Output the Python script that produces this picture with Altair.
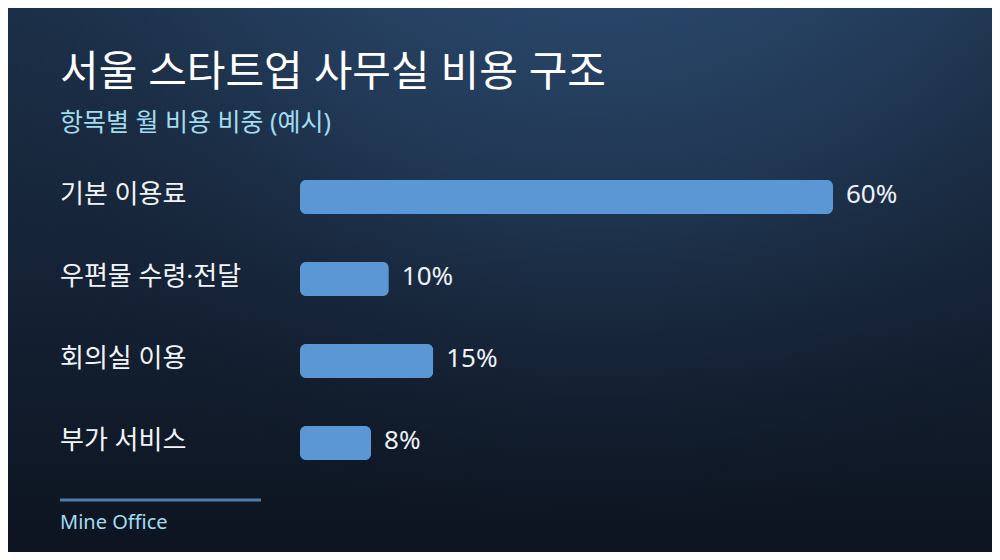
import altair as alt
import pandas as pd

# ---- data ----
categories = ["기본 이용료", "우편물 수령·전달", "회의실 이용", "부가 서비스"]
shares = [60, 10, 15, 8]
share_labels = ["60%", "10%", "15%", "8%"]
title_text = "서울 스타트업 사무실 비용 구조"
subtitle_text = "항목별 월 비용 비중 (예시)"
footer_text = "Mine Office"

W, H = 984, 544
OFF = 8  # page margin
FONT = "Noto Sans, Noto Sans CJK KR"

df = pd.DataFrame({"cat": categories, "value": shares, "label": share_labels})

xscale = alt.Scale(domain=[0, 60], range=[300 - OFF, 833 - OFF])
yscale = alt.Scale(type="point", domain=categories, range=[197 - OFF, 443 - OFF], padding=0)

one = pd.DataFrame({"a": [0]})

bg_linear = alt.Chart(one).mark_rect(
    fill={
        "gradient": "linear", "x1": 0, "y1": 0, "x2": 0, "y2": 1,
        "stops": [
            {"offset": 0, "color": "#1c3049"},
            {"offset": 1, "color": "#0d1420"},
        ],
    }
).encode(x=alt.value(0), x2=alt.value(W), y=alt.value(0), y2=alt.value(H))

bg_radial = alt.Chart(one).mark_rect(
    fill={
        "gradient": "radial", "x1": 0.6, "y1": 0.0, "r1": 0,
        "x2": 0.6, "y2": 0.0, "r2": 0.75,
        "stops": [
            {"offset": 0, "color": "rgba(50,86,128,1)"},
            {"offset": 0.55, "color": "rgba(40,68,102,0.55)"},
            {"offset": 1, "color": "rgba(20,32,50,0)"},
        ],
    }
).encode(x=alt.value(0), x2=alt.value(W), y=alt.value(0), y2=alt.value(H))

base = alt.Chart(df)

bars = base.mark_bar(size=34, cornerRadius=6, color="#5b97d4").encode(
    x=alt.X("value:Q", scale=xscale, axis=None),
    y=alt.Y("cat:N", scale=yscale, axis=None, sort=categories),
)

cat_labels = base.mark_text(
    align="left", baseline="middle", font=FONT, fontSize=26, color="#f2f5f9", dy=-2
).encode(
    x=alt.value(60 - OFF),
    y=alt.Y("cat:N", scale=yscale, axis=None, sort=categories),
    text="cat:N",
)

val_labels = base.mark_text(
    align="left", baseline="middle", font=FONT, fontSize=26, color="#eef2f7", dx=13, dy=-2
).encode(
    x=alt.X("value:Q", scale=xscale, axis=None),
    y=alt.Y("cat:N", scale=yscale, axis=None, sort=categories),
    text="label:N",
)

title = alt.Chart(pd.DataFrame({"t": [title_text]})).mark_text(
    align="left", baseline="alphabetic", font=FONT, fontSize=42, color="#ffffff", fontWeight="normal"
).encode(x=alt.value(60 - OFF), y=alt.value(86 - OFF), text="t:N")

subtitle = alt.Chart(pd.DataFrame({"t": [subtitle_text]})).mark_text(
    align="left", baseline="alphabetic", font=FONT, fontSize=25, color="#a3dcf0"
).encode(x=alt.value(60 - OFF), y=alt.value(131 - OFF), text="t:N")

footer_line = alt.Chart(one).mark_rule(color="#4f7cab", strokeWidth=3).encode(
    x=alt.value(60 - OFF), x2=alt.value(261 - OFF), y=alt.value(500 - OFF)
)

footer = alt.Chart(pd.DataFrame({"t": [footer_text]})).mark_text(
    align="left", baseline="alphabetic", font=FONT, fontSize=20, color="#a3dcf0"
).encode(x=alt.value(60 - OFF), y=alt.value(529 - OFF), text="t:N")

chart = alt.layer(
    bg_linear, bg_radial, bars, cat_labels, val_labels, title, subtitle, footer_line, footer
).properties(
    width=W, height=H, padding=0, autosize=alt.AutoSizeParams(type="none"),
    background="#0d1420",
).configure_view(stroke=None)

chart.save("out.html", embed_options={"renderer": "svg", "actions": False})
